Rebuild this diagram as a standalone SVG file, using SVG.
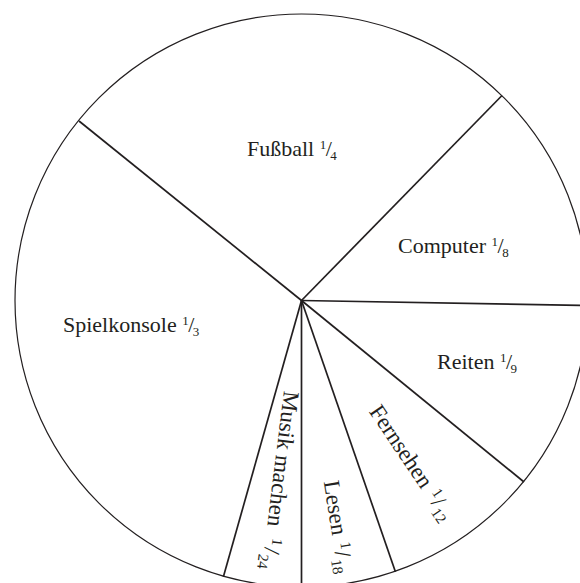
<svg xmlns="http://www.w3.org/2000/svg" width="580" height="583" viewBox="0 0 580 583">
<style>
.lbl{font-family:"Liberation Serif","Times New Roman",serif;font-size:22px;fill:#231f20}
.rot{font-size:23px}
.sm{font-size:13px}
.rsm{font-size:15px}
.div{stroke:#231f20;stroke-width:1.7;fill:none;stroke-linecap:butt}
.rim{stroke:#231f20;stroke-width:1.2;fill:#fff}
</style>
<rect width="580" height="583" fill="#fff"/>
<circle id="pie" class="rim" cx="301.5" cy="300.5" r="286.5"/>
<g id="dividers">
<line class="div" x1="301.5" y1="300.5" x2="79" y2="121"/>
<line class="div" x1="301.5" y1="300.5" x2="502" y2="95.5"/>
<line class="div" x1="301.5" y1="300.5" x2="588" y2="305.5"/>
<line class="div" x1="301.5" y1="300.5" x2="524" y2="482"/>
<line class="div" x1="301.5" y1="300.5" x2="395.4" y2="571.7"/>
<line class="div" x1="301.5" y1="300.5" x2="301.5" y2="590"/>
<line class="div" x1="301.5" y1="300.5" x2="223.4" y2="576.7"/>
</g>
<g id="fussball"><text class="lbl" x="247" y="156">Fußball <tspan class="sm" dy="-7">1</tspan><tspan dx="-0.5" dy="7">/</tspan><tspan class="sm" dx="-1.5" dy="4">4</tspan></text></g>
<g id="computer"><text class="lbl" x="398" y="253">Computer <tspan class="sm" dy="-7">1</tspan><tspan dx="-0.5" dy="7">/</tspan><tspan class="sm" dx="-1.5" dy="4">8</tspan></text></g>
<g id="spielkonsole"><text class="lbl" x="63" y="332">Spielkonsole <tspan class="sm" dy="-7">1</tspan><tspan dx="-0.5" dy="7">/</tspan><tspan class="sm" dx="-1.5" dy="4">3</tspan></text></g>
<g id="reiten"><text class="lbl" x="437" y="369">Reiten <tspan class="sm" dy="-7">1</tspan><tspan dx="-0.5" dy="7">/</tspan><tspan class="sm" dx="-1.5" dy="4">9</tspan></text></g>
<g id="fernsehen"><text class="lbl rot" transform="rotate(56 301.5 300.5)" x="431" y="307">Fernsehen <tspan class="rsm" dx="2" dy="-7">1</tspan><tspan dx="1" dy="7">/</tspan><tspan class="rsm" dx="1" dy="5">12</tspan></text></g>
<g id="lesen"><text class="lbl rot" transform="rotate(81 301.5 300.5)" x="484" y="307">Lesen <tspan class="rsm" dx="2" dy="-7">1</tspan><tspan dx="1" dy="7">/</tspan><tspan class="rsm" dx="1" dy="5">18</tspan></text></g>
<g id="musik"><text class="lbl rot" transform="rotate(97 301.5 300.5)" x="393" y="307">Musik machen <tspan class="rsm" dx="6" dy="-7">1</tspan><tspan dx="2" dy="7">/</tspan><tspan class="rsm" dx="1" dy="5">24</tspan></text></g>
</svg>
